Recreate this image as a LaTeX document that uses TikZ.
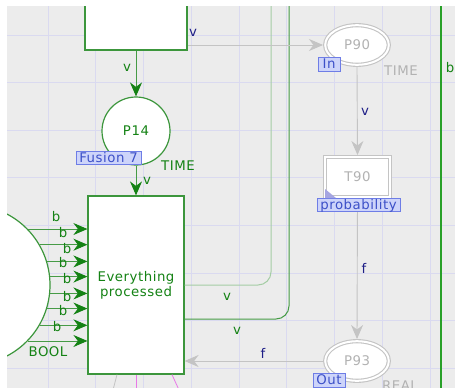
\documentclass[tikz,border=0pt]{standalone}
\usepackage{fontspec}
\setmainfont{DejaVu Sans}[LetterSpace=4]
\usetikzlibrary{arrows.meta,shapes.geometric}
\definecolor{cgreen}{RGB}{20,130,20}
\definecolor{cbox}{RGB}{60,150,60}
\definecolor{cline}{RGB}{70,155,70}
\definecolor{cright}{RGB}{40,160,40}
\definecolor{cpale}{RGB}{165,205,165}
\definecolor{cnavy}{RGB}{30,30,135}
\definecolor{cgrey}{RGB}{196,196,196}
\definecolor{cgreytext}{RGB}{178,178,178}
\definecolor{ctagfill}{RGB}{205,212,250}
\definecolor{ctagdraw}{RGB}{110,125,230}
\definecolor{ctagtext}{RGB}{60,80,200}
\definecolor{cgrid}{RGB}{218,218,240}
\definecolor{cbg}{RGB}{236,236,236}
\definecolor{cpink}{RGB}{232,120,232}
\definecolor{ctri}{RGB}{165,165,225}
\begin{document}
\begin{tikzpicture}[x=1pt,y=-1pt,
  font=\fontsize{13.3}{15}\selectfont,
  tbox/.style={draw=cbox, fill=white, line width=1.2pt, rectangle, text=cgreen, inner sep=0pt},
  placeg/.style={draw=cbox, fill=white, line width=1.2pt, circle, text=cgreen, inner sep=0pt},
  gplace/.style={ellipse, draw=cgrey, double=white, double distance=2pt, line width=1.1pt, fill=white,
     text=cgreytext, minimum width=63.6pt, minimum height=39.6pt, inner sep=0pt, outer sep=2.2pt},
  gtrans/.style={rectangle, draw=cgrey, double=white, double distance=2pt, line width=1.1pt, fill=white,
     text=cgreytext, minimum width=64.6pt, minimum height=39.6pt, inner sep=0pt, outer sep=2.2pt},
  garrow/.style={draw=cline, line width=0.9pt, -{Stealth[length=14pt,width=12pt,inset=4.5pt,color=cgreen]}},
  grarrow/.style={draw=cgrey, line width=0.9pt, -{Stealth[length=14pt,width=12pt,inset=4.5pt]}},
  glab/.style={text=cgreen, inner sep=0pt},
  nlab/.style={text=cnavy, inner sep=0pt},
  greylab/.style={text=cgreytext, inner sep=0pt},
  tag/.style={draw=ctagdraw, fill=ctagfill, text=ctagtext, line width=0.8pt, inner xsep=1pt, inner ysep=0.6pt,
     text height=9.8pt, text depth=0pt}
]
\useasboundingbox (0,0) rectangle (455,388);
\fill[white] (0,0) rectangle (455,388);
\fill[cbg] (7,6) rectangle (455,388);
\begin{scope}
\clip (7,6) rectangle (455,388);
% grid
\foreach \k in {0,...,8} \draw[cgrid, line width=0.8pt] ({48+47.75*\k},6) -- ({48+47.75*\k},388);
\foreach \k in {0,...,7} \draw[cgrid, line width=0.8pt] (7,{35+47.6*\k}) -- (455,{35+47.6*\k});

% off-screen connector ends
\coordinate (a1e) at (271,0);
\coordinate (a2e) at (289,0);
\coordinate (y319) at (0,319);
\coordinate (rtop) at (441,0);
\coordinate (rbot) at (441,390);
\coordinate (pk1) at (136,390);
\coordinate (pk2) at (179,390);
\coordinate (gy1) at (113,390);

% nodes
\node[tbox, minimum width=102pt, minimum height=100pt] (topbox) at (136,0) {};
\node[placeg, minimum size=68pt] (p14) at (136,131) {P14};
\node[tbox, minimum width=96pt, minimum height=178pt, align=center] (ep) at (136,285) {Everything\\processed};
\node[placeg, minimum size=160pt] (bool) at (-30,285) {};
\node[gplace] (p90) at (357,45) {P90};
\node[gtrans] (t90) at (357.5,177) {T90};
\node[gplace] (p93) at (357,361) {P93};

% long arcs leaving the view
\draw[cpale, line width=1pt, rounded corners=13pt] (ep.east) -| (a1e);
\draw[cline, line width=1pt, rounded corners=13pt] (ep.east |- y319) -| (a2e);
\draw[cright, line width=1.1pt] (rtop) -- (rbot);
\draw[cpink, line width=0.8pt] (ep.south) -- (pk1);
\draw[cpink, line width=0.8pt] (ep.south -| 172,0) -- (pk2);
\draw[cgrey, line width=0.8pt] (ep.south -| 117,0) -- (gy1);

% green arcs
\draw[garrow] (topbox.south) -- (p14.north);
\draw[garrow] (p14.south) -- (ep.north);
\foreach \i in {0,...,7} {
  \pgfmathtruncatemacro{\a}{round(-asin((229.5+15.9*\i-285)/80))}
  \draw[garrow] (bool.\a) -- (bool.\a -| ep.west);
}

% grey arcs
\draw[grarrow] (topbox.east |- p90.west) -- (p90.west);
\draw[grarrow] (p90.south) -- (t90.north);
\draw[grarrow] (t90.south) -- (p93.north);
\draw[grarrow] (p93.west) -- (p93.west -| ep.east);

% tags
\node[tag, minimum width=65pt, minimum height=12.5pt] (tfus) at (108.5,158) {Fusion 7};
\node[tag, minimum width=22pt, minimum height=14pt] (tin) at (329,64) {In};
\node[tag, minimum width=83pt, minimum height=13pt] (tprob) at (358.5,204.5) {probability};
\node[tag, minimum width=32pt, minimum height=14pt] (tout) at (329,380) {Out};
\fill[ctri] (325,189) -- (325,198) -- (336,198) -- cycle;

% labels
\node[nlab] (l1) at (193,33) {v};
\node[glab] (l2) at (127,68) {v};
\node[glab] (l3) at (178,166) {TIME};
\node[glab] (l4) at (147,181) {v};
\node[glab] (b1) at (56,217) {b};
\node[glab] (b2) at (63,233) {b};
\node[glab] (b3) at (67,249) {b};
\node[glab] (b4) at (63,263) {b};
\node[glab] (b5) at (67,279) {b};
\node[glab] (b6) at (67,297) {b};
\node[glab] (b7) at (63,311) {b};
\node[glab] (b8) at (57,327) {b};
\node[glab] (lbool) at (48,352) {BOOL};
\node[glab] (l5) at (227,297) {v};
\node[glab] (l6) at (237,331) {v};
\node[nlab] (l7) at (263,353) {f};
\node[greylab] (l8) at (401,71) {TIME};
\node[nlab] (l9) at (365,112) {v};
\node[nlab] (l10) at (364,268) {f};
\node[greylab] (l11) at (400,386) {REAL};
\node[glab] (l12) at (450,68) {b};
\end{scope}
\end{tikzpicture}
\end{document}
